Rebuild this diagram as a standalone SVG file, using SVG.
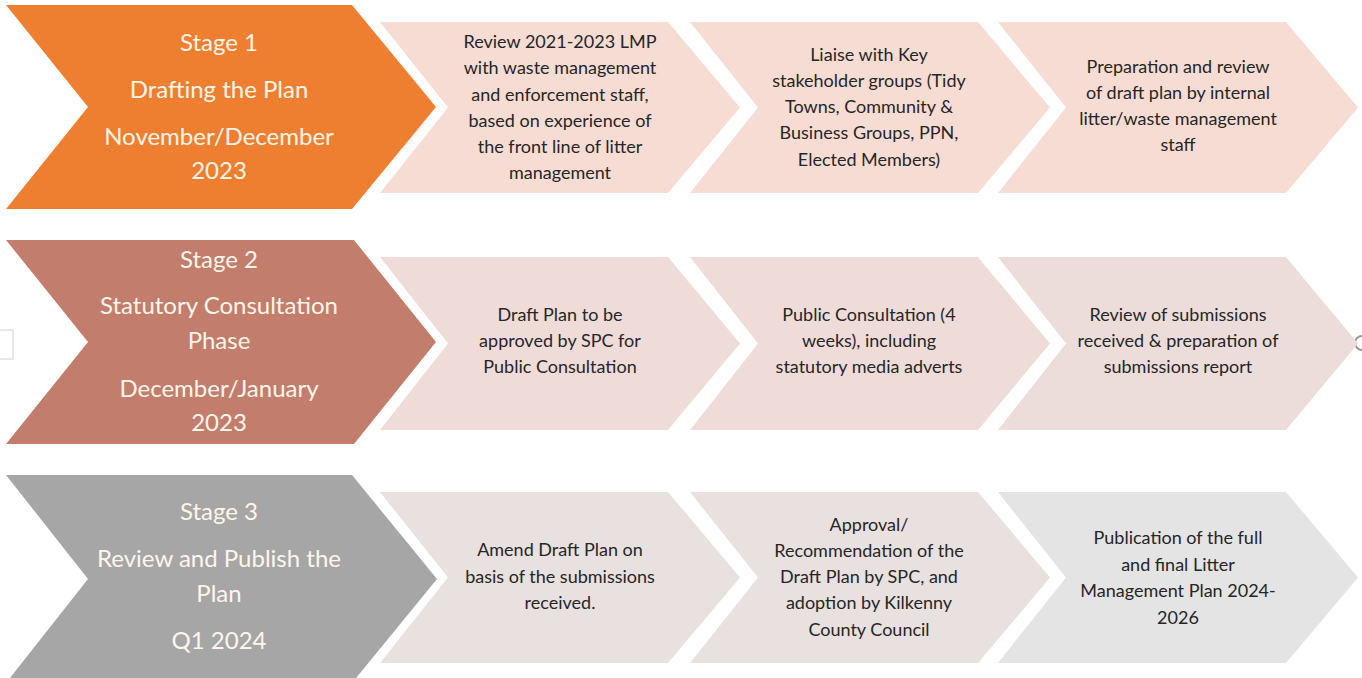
<svg xmlns="http://www.w3.org/2000/svg" width="1362" height="678" viewBox="0 0 1362 678">
<style>
.stg{font-family:Lato,"Liberation Sans",sans-serif;font-size:24px;fill:#fff6ea;text-anchor:middle}
.tsk{font-family:Lato,"Liberation Sans",sans-serif;font-size:18px;fill:#262626;text-anchor:middle}
.r1{fill:#f7dcd4}
.r2{fill:#efdcd8}
.r3{fill:#e9e0e0}
.g3{fill:#e4e4e4}
</style>
<rect width="1362" height="678" fill="#ffffff"/>
<rect x="-2" y="330" width="15" height="29" fill="none" stroke="#d0d0d0" stroke-width="1"/>
<path d="M1362,336 A7,7 0 1 0 1362,350" fill="none" stroke="#9a9a9a" stroke-width="2"/>

<g id="stage1">
<polygon points="6,5 352,5 436,107 352,209 6,209 88,107" fill="#ee7f31"/>
<text class="stg" x="219" y="51">Stage 1</text>
<text class="stg" x="219" y="98">Drafting the Plan</text>
<text class="stg" x="219" y="145">November/December</text>
<text class="stg" x="219" y="179">2023</text>
</g>
<g id="task1a">
<polygon class="r1" points="380,22 668,22 740,107.5 668,193 380,193 448,107.5"/>
<text class="tsk" x="560" y="48">Review 2021-2023 LMP</text>
<text class="tsk" x="560" y="74">with waste management</text>
<text class="tsk" x="560" y="101">and enforcement staff,</text>
<text class="tsk" x="560" y="127">based on experience of</text>
<text class="tsk" x="560" y="153">the front line of litter</text>
<text class="tsk" x="560" y="179">management</text>
</g>
<g id="task1b">
<polygon class="r1" points="690,22 978,22 1050,107.5 978,193 690,193 758,107.5"/>
<text class="tsk" x="869" y="61">Liaise with Key</text>
<text class="tsk" x="869" y="87">stakeholder groups (Tidy</text>
<text class="tsk" x="869" y="113">Towns, Community &amp;</text>
<text class="tsk" x="869" y="139">Business Groups, PPN,</text>
<text class="tsk" x="869" y="166">Elected Members)</text>
</g>
<g id="task1c">
<polygon class="r1" points="998,22 1286,22 1358,107.5 1286,193 998,193 1066,107.5"/>
<text class="tsk" x="1178" y="73">Preparation and review</text>
<text class="tsk" x="1178" y="99">of draft plan by internal</text>
<text class="tsk" x="1178" y="125">litter/waste management</text>
<text class="tsk" x="1178" y="151">staff</text>
</g>

<g id="stage2">
<polygon points="6,240 354,240 436,342 354,444 6,444 88,342" fill="#c27d6d"/>
<text class="stg" x="219" y="268">Stage 2</text>
<text class="stg" x="219" y="314">Statutory Consultation</text>
<text class="stg" x="219" y="349">Phase</text>
<text class="stg" x="219" y="397">December/January</text>
<text class="stg" x="219" y="431">2023</text>
</g>
<g id="task2a">
<polygon class="r2" points="380,257 668,257 740,343.5 668,430 380,430 448,343.5"/>
<text class="tsk" x="560" y="321">Draft Plan to be</text>
<text class="tsk" x="560" y="347">approved by SPC for</text>
<text class="tsk" x="560" y="373">Public Consultation</text>
</g>
<g id="task2b">
<polygon class="r2" points="690,257 978,257 1050,343.5 978,430 690,430 758,343.5"/>
<text class="tsk" x="869" y="321">Public Consultation (4</text>
<text class="tsk" x="869" y="347">weeks), including</text>
<text class="tsk" x="869" y="373">statutory media adverts</text>
</g>
<g id="task2c">
<polygon points="998,257 1286,257 1358,343.5 1286,430 998,430 1066,343.5" fill="#ecdddb"/>
<text class="tsk" x="1178" y="321">Review of submissions</text>
<text class="tsk" x="1178" y="347">received &amp; preparation of</text>
<text class="tsk" x="1178" y="373">submissions report</text>
</g>

<g id="stage3">
<polygon points="6,475 352,475 437,579 352,683 6,683 88,579" fill="#a6a6a6"/>
<text class="stg" x="219" y="520">Stage 3</text>
<text class="stg" x="219" y="567">Review and Publish the</text>
<text class="stg" x="219" y="602">Plan</text>
<text class="stg" x="219" y="649">Q1 2024</text>
</g>
<g id="task3a">
<polygon class="r3" points="380,492 668,492 740,577.5 668,663 380,663 448,577.5"/>
<text class="tsk" x="560" y="556">Amend Draft Plan on</text>
<text class="tsk" x="560" y="583">basis of the submissions</text>
<text class="tsk" x="560" y="609">received.</text>
</g>
<g id="task3b">
<polygon class="r3" points="690,492 978,492 1050,577.5 978,663 690,663 758,577.5"/>
<text class="tsk" x="869" y="531">Approval/</text>
<text class="tsk" x="869" y="557">Recommendation of the</text>
<text class="tsk" x="869" y="583">Draft Plan by SPC, and</text>
<text class="tsk" x="869" y="609">adoption by Kilkenny</text>
<text class="tsk" x="869" y="636">County Council</text>
</g>
<g id="task3c">
<polygon class="g3" points="998,492 1286,492 1358,577.5 1286,663 998,663 1066,577.5"/>
<text class="tsk" x="1178" y="544">Publication of the full</text>
<text class="tsk" x="1178" y="571">and final Litter</text>
<text class="tsk" x="1178" y="597">Management Plan 2024-</text>
<text class="tsk" x="1178" y="624">2026</text>
</g>
<g id="connectors"></g>
</svg>
